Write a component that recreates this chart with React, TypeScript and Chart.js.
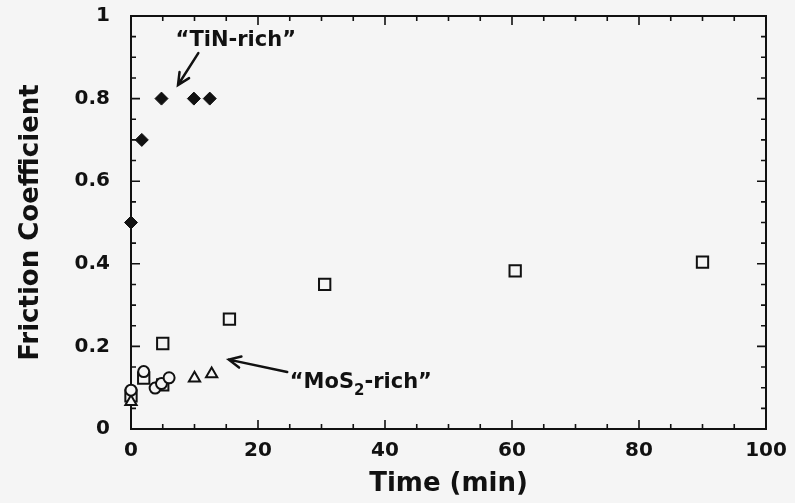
import React, { useEffect, useRef } from "react";
import { Chart, registerables } from "chart.js";

Chart.register(...registerables);

// ---- data ----
const tinTime = [0, 1.7, 4.8, 9.9, 12.4];
const tinFriction = [0.5, 0.7, 0.8, 0.8, 0.8];

const squareTime = [0, 2, 5, 5, 15.5, 30.5, 60.5, 90];
const squareFriction = [0.08, 0.123, 0.107, 0.207, 0.266, 0.35, 0.383, 0.404];

const circleTime = [0, 2, 3.8, 4.8, 6];
const circleFriction = [0.094, 0.139, 0.099, 0.11, 0.124];

const triangleTime = [0, 10, 12.7];
const triangleFriction = [0.066, 0.123, 0.133];

const xMajorTicks = [0, 20, 40, 60, 80, 100];
const yMajorTicks = [0, 0.2, 0.4, 0.6, 0.8, 1];
const yTickLabels = ["0", "0.2", "0.4", "0.6", "0.8", "1"];
const xMinorStep = 5;
const yMinorStep = 0.05;

const xTitle = "Time (min)";
const yTitle = "Friction Coefficient";

// annotation anchors in data units
const tinLabel = { text: "\u201cTiN-rich\u201d", x: 16.5, y: 0.94 };
const tinArrow = { fromX: 10.6, fromY: 0.91, toX: 7.4, toY: 0.833 };
const mosLabel = { pre: "\u201cMoS", sub: "2", post: "-rich\u201d", x: 25.0, y: 0.112 };
const mosArrow = { fromX: 24.6, fromY: 0.138, toX: 15.4, toY: 0.168 };

const BG = "#f5f5f5";
const INK = "#111111";
const FONT = '"DejaVu Sans", sans-serif';

const toPts = (xs: number[], ys: number[]) => xs.map((x, i) => ({ x, y: ys[i] }));

function arrow(ctx: CanvasRenderingContext2D, x1: number, y1: number, x2: number, y2: number) {
  const ang = Math.atan2(y2 - y1, x2 - x1);
  const len = 13;
  const spread = 0.45;
  ctx.beginPath();
  ctx.moveTo(x1, y1);
  ctx.lineTo(x2, y2);
  ctx.moveTo(x2 - len * Math.cos(ang - spread), y2 - len * Math.sin(ang - spread));
  ctx.lineTo(x2, y2);
  ctx.lineTo(x2 - len * Math.cos(ang + spread), y2 - len * Math.sin(ang + spread));
  ctx.stroke();
}

const decorPlugin = {
  id: "decor",
  beforeDraw(chart: any) {
    const { ctx, width, height } = chart;
    ctx.save();
    ctx.fillStyle = BG;
    ctx.fillRect(0, 0, width, height);
    ctx.restore();
  },
  beforeDatasetsDraw(chart: any) {
    const { ctx, chartArea: a, scales } = chart;
    const xs = scales.x;
    const ys = scales.y;
    ctx.save();
    ctx.strokeStyle = INK;
    ctx.lineWidth = 2;
    ctx.strokeRect(a.left, a.top, a.right - a.left, a.bottom - a.top);
    ctx.lineWidth = 1.6;
    ctx.beginPath();
    for (let v = xs.min; v <= xs.max + 1e-9; v += xMinorStep) {
      const major = xMajorTicks.some((t) => Math.abs(t - v) < 1e-6);
      const L = major ? 9 : 5;
      const px = xs.getPixelForValue(v);
      ctx.moveTo(px, a.bottom);
      ctx.lineTo(px, a.bottom - L);
      ctx.moveTo(px, a.top);
      ctx.lineTo(px, a.top + L);
    }
    for (let v = ys.min; v <= ys.max + 1e-9; v += yMinorStep) {
      const major = yMajorTicks.some((t) => Math.abs(t - v) < 1e-6);
      const L = major ? 9 : 5;
      const py = ys.getPixelForValue(v);
      ctx.moveTo(a.left, py);
      ctx.lineTo(a.left + L, py);
      ctx.moveTo(a.right, py);
      ctx.lineTo(a.right - L, py);
    }
    ctx.stroke();
    ctx.restore();
  },
  afterDraw(chart: any) {
    const { ctx, scales } = chart;
    const xs = scales.x;
    const ys = scales.y;
    ctx.save();
    ctx.strokeStyle = INK;
    ctx.fillStyle = INK;
    ctx.lineWidth = 2.5;
    ctx.lineCap = "round";
    arrow(
      ctx,
      xs.getPixelForValue(tinArrow.fromX),
      ys.getPixelForValue(tinArrow.fromY),
      xs.getPixelForValue(tinArrow.toX),
      ys.getPixelForValue(tinArrow.toY)
    );
    arrow(
      ctx,
      xs.getPixelForValue(mosArrow.fromX),
      ys.getPixelForValue(mosArrow.fromY),
      xs.getPixelForValue(mosArrow.toX),
      ys.getPixelForValue(mosArrow.toY)
    );
    ctx.font = `bold 21px ${FONT}`;
    ctx.textBaseline = "middle";
    ctx.textAlign = "center";
    ctx.fillText(tinLabel.text, xs.getPixelForValue(tinLabel.x), ys.getPixelForValue(tinLabel.y));
    ctx.textAlign = "left";
    let px = xs.getPixelForValue(mosLabel.x);
    const py = ys.getPixelForValue(mosLabel.y);
    ctx.fillText(mosLabel.pre, px, py);
    px += ctx.measureText(mosLabel.pre).width;
    ctx.font = `bold 15px ${FONT}`;
    ctx.fillText(mosLabel.sub, px, py + 8);
    px += ctx.measureText(mosLabel.sub).width;
    ctx.font = `bold 21px ${FONT}`;
    ctx.fillText(mosLabel.post, px, py);
    ctx.restore();
  },
};

export default function App() {
  const ref = useRef<HTMLCanvasElement | null>(null);
  useEffect(() => {
    if (!ref.current) return;
    const hollow = {
      pointBackgroundColor: BG,
      pointBorderColor: INK,
      pointBorderWidth: 2,
      showLine: false,
      clip: false as any,
    };
    const chart = new Chart(ref.current, {
      type: "scatter",
      data: {
        datasets: [
          {
            label: "TiN-rich",
            data: toPts(tinTime, tinFriction),
            pointStyle: "rectRot",
            pointRadius: 6.5,
            pointBackgroundColor: INK,
            pointBorderColor: INK,
            pointBorderWidth: 1,
            clip: false as any,
          },
          { label: "circles", data: toPts(circleTime, circleFriction), pointStyle: "circle", pointRadius: 5.5, ...hollow },
          { label: "triangles", data: toPts(triangleTime, triangleFriction), pointStyle: "triangle", pointRadius: 6.5, ...hollow },
          { label: "squares", data: toPts(squareTime, squareFriction), pointStyle: "rect", pointRadius: 8, ...hollow },
        ],
      },
      options: {
        animation: false,
        responsive: true,
        maintainAspectRatio: false,
        layout: { padding: { left: 0, right: 29, top: 16, bottom: 0 } },
        plugins: { legend: { display: false }, tooltip: { enabled: false } },
        scales: {
          x: {
            type: "linear",
            min: 0,
            max: 100,
            grid: { display: false, drawTicks: false, tickLength: 0 },
            border: { display: false },
            ticks: {
              stepSize: 20,
              padding: 10,
              color: INK,
              font: { family: FONT, size: 20, weight: "bold" },
              maxRotation: 0,
            },
            title: {
              display: true,
              text: xTitle,
              color: INK,
              font: { family: FONT, size: 26, weight: "bold" },
              padding: { top: 0, bottom: 3 },
            },
            afterFit: (s: any) => {
              s.height = 74;
              s.paddingLeft = 0;
              s.paddingRight = 0;
              s.paddingTop = 0;
              s.paddingBottom = 0;
            },
          },
          y: {
            type: "linear",
            min: 0,
            max: 1,
            grid: { display: false, drawTicks: false, tickLength: 0 },
            border: { display: false },
            ticks: {
              stepSize: 0.2,
              padding: 21,
              color: INK,
              font: { family: FONT, size: 20, weight: "bold" },
              callback: (v: any) => {
                const i = yMajorTicks.findIndex((t) => Math.abs(t - Number(v)) < 1e-6);
                return i >= 0 ? yTickLabels[i] : "";
              },
            },
            title: {
              display: true,
              text: yTitle,
              color: INK,
              font: { family: FONT, size: 26, weight: "bold" },
              padding: { top: 16, bottom: 0 },
            },
            afterFit: (s: any) => {
              s.width = 131;
              s.paddingLeft = 0;
              s.paddingRight = 0;
              s.paddingTop = 0;
              s.paddingBottom = 0;
            },
          },
        },
      },
      plugins: [decorPlugin],
    });
    return () => chart.destroy();
  }, []);
  return (
    <div style={{ position: "absolute", left: 0, top: 0, width: 795, height: 503, background: BG }}>
      <canvas ref={ref} />
    </div>
  );
}
